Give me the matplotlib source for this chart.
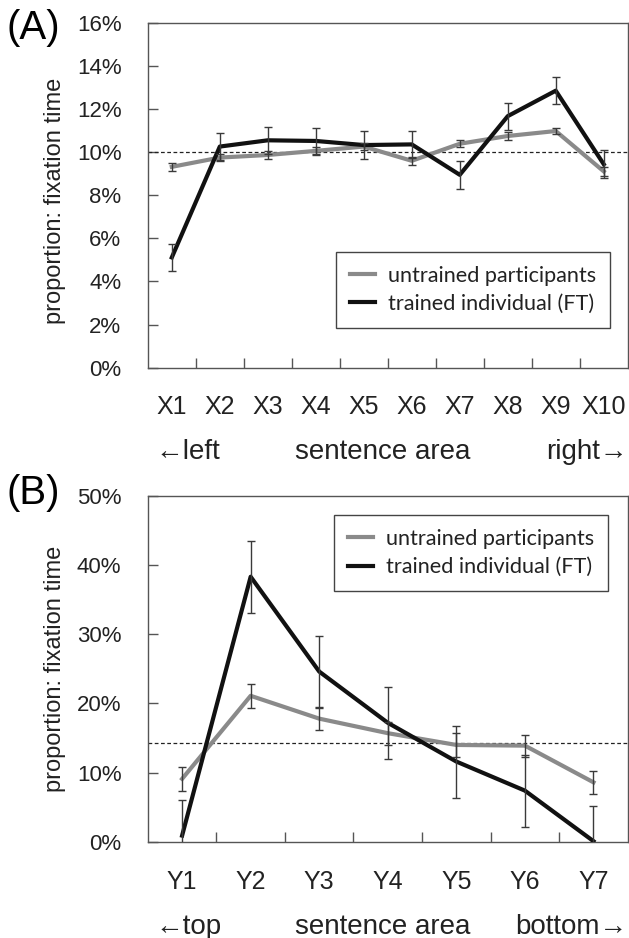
import numpy as np
import matplotlib
matplotlib.use("Agg")
import matplotlib.pyplot as plt

plt.rcParams['font.family'] = ['Liberation Sans', 'DejaVu Sans']

# panel A: horizontal sentence areas
labels_a = ['X1', 'X2', 'X3', 'X4', 'X5', 'X6', 'X7', 'X8', 'X9', 'X10']
untrained_a = [9.31, 9.74, 9.86, 10.05, 10.25, 9.59, 10.38, 10.74, 10.97, 9.10]
untrained_a_err = [0.18, 0.18, 0.18, 0.18, 0.18, 0.18, 0.17, 0.2, 0.12, 0.2]
trained_a = [5.11, 10.25, 10.54, 10.51, 10.32, 10.35, 8.94, 11.66, 12.84, 9.43]
trained_a_err = [0.63, 0.62, 0.62, 0.62, 0.63, 0.63, 0.66, 0.62, 0.64, 0.66]

# panel B: vertical sentence areas
labels_b = ['Y1', 'Y2', 'Y3', 'Y4', 'Y5', 'Y6', 'Y7']
untrained_b = [9.1, 21.1, 17.8, 15.7, 14.0, 13.9, 8.6]
untrained_b_err = [1.7, 1.75, 1.64, 1.68, 1.68, 1.59, 1.68]
trained_b = [0.9, 38.3, 24.6, 17.2, 11.6, 7.4, 0.1]
trained_b_err = [5.2, 5.2, 5.2, 5.2, 5.2, 5.2, 5.1]

GRAY = '#8a8a8a'
BLACK = '#111111'
ERR = '#3a3a3a'
FRAME = '#555555'

fig = plt.figure(figsize=(6.29, 9.38), dpi=100)


def panel(rect, labels, unt, unt_err, tr, tr_err, ymax, ystep, chance,
          side_left, side_right, leg_loc, leg_anchor):
    ax = fig.add_axes(rect)
    n = len(labels)
    x = np.arange(1, n + 1)
    ax.plot(x, unt, color=GRAY, lw=3, label='untrained participants', zorder=3)
    ax.plot(x, tr, color=BLACK, lw=3, label='trained individual (FT)', zorder=4)
    ax.errorbar(x, unt, yerr=unt_err, fmt='none', ecolor=ERR, elinewidth=1,
                capsize=3, capthick=1, zorder=5)
    ax.errorbar(x, tr, yerr=tr_err, fmt='none', ecolor=ERR, elinewidth=1,
                capsize=3, capthick=1, zorder=5)
    ax.axhline(chance, color='#222222', lw=0.9, ls=(0, (3, 2)), zorder=2)

    ax.set_xlim(0.5, n + 0.5)
    ax.set_ylim(0, ymax)
    ax.set_yticks(np.arange(0, ymax + 0.01, ystep))
    ax.set_yticklabels(['%d%%' % v for v in np.arange(0, ymax + 0.01, ystep)])
    ax.set_xticks(np.arange(1.5, n))
    ax.set_xticklabels([])
    ax.set_xticks(x, labels, minor=True)
    ax.tick_params(axis='x', which='major', direction='in', length=7,
                   width=1, color=FRAME)
    ax.tick_params(axis='x', which='minor', length=0, pad=20, labelsize=18,
                   labelcolor='#222222')
    ax.tick_params(axis='y', direction='in', length=7, width=1, color=FRAME,
                   pad=19, labelsize=16, labelcolor='#222222')
    for s in ax.spines.values():
        s.set_color(FRAME)
        s.set_linewidth(1)

    ax.text(0.015, -0.245, side_left, transform=ax.transAxes, ha='left',
            va='center', fontsize=20, color='#222222')
    ax.text(0.49, -0.245, 'sentence area', transform=ax.transAxes,
            ha='center', va='center', fontsize=20, color='#222222')
    ax.text(1.0, -0.245, side_right, transform=ax.transAxes, ha='right',
            va='center', fontsize=20, color='#222222')

    leg = ax.legend(loc=leg_loc, bbox_to_anchor=leg_anchor, fancybox=False,
                    framealpha=1, edgecolor='#444444', handlelength=1.15,
                    handletextpad=0.6, borderpad=0.65, labelspacing=0.38,
                    borderaxespad=0, prop={'family': 'Lato', 'size': 15.6})
    leg.get_frame().set_linewidth(1)
    for t in leg.get_texts():
        t.set_color('#222222')
    return ax


panel([0.235, 0.608, 0.763, 0.368], labels_a, untrained_a, untrained_a_err,
      trained_a, trained_a_err, 16, 2, 100 / 10, '\u2190left', 'right\u2192',
      'lower right', (0.963, 0.115))
panel([0.235, 0.1025, 0.763, 0.369], labels_b, untrained_b, untrained_b_err,
      trained_b, trained_b_err, 50, 10, 100 / 7, '\u2190top', 'bottom\u2192',
      'upper right', (0.959, 0.945))

fig.text(0.088, 0.786, 'proportion: fixation time', rotation=90,
         ha='center', va='center', fontsize=17, color='#222222')
fig.text(0.088, 0.287, 'proportion: fixation time', rotation=90,
         ha='center', va='center', fontsize=17, color='#222222')
fig.text(0.01, 0.97, '(A)', ha='left', va='center', fontsize=29)
fig.text(0.01, 0.474, '(B)', ha='left', va='center', fontsize=29)

fig.savefig('out.png', dpi=100)
